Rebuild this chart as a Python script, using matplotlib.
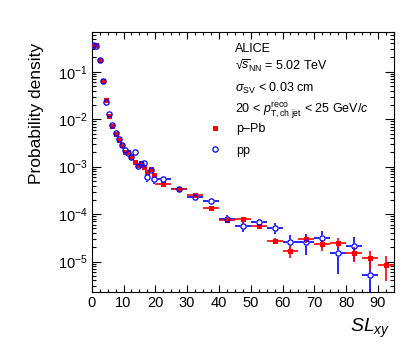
import numpy as np
import matplotlib
matplotlib.use("Agg")
import matplotlib.pyplot as plt
from matplotlib.ticker import MultipleLocator, LogLocator, NullFormatter
from matplotlib.lines import Line2D

plt.rcParams['font.family'] = ['Liberation Sans', 'DejaVu Sans']
plt.rcParams['mathtext.fontset'] = 'custom'
plt.rcParams['mathtext.rm'] = 'Liberation Sans'
plt.rcParams['mathtext.it'] = 'Liberation Sans:italic'
plt.rcParams['mathtext.bf'] = 'Liberation Sans:bold'

# bin centres and half widths (SL_xy)
sl_centres = [0.5, 1.5, 2.5, 3.5, 4.5, 5.5, 6.5, 7.5, 8.5, 9.5,
              10.5, 11.5, 12.5, 13.5, 14.5, 15.5, 16.5, 17.5, 18.5, 19.5,
              22.5, 27.5, 32.5, 37.5, 42.5, 47.5, 52.5, 57.5, 62.5, 67.5,
              72.5, 77.5, 82.5, 87.5, 92.5]
sl_halfw = [0.5] * 20 + [2.5] * 15

# p-Pb
ppb_y = [0.36, 0.36, 0.177, 0.065, 0.0253, 0.0118, 0.0073, 0.0049, 0.0037, 0.0028,
         0.00203, 0.0020, 0.00159, 0.00126, 0.00107, 0.00118, 0.00098, 0.00078, 0.00089, 0.00066,
         0.00044, 0.000335, 0.000259, 0.000132, 7.7e-5, 7.8e-5, 5.5e-5, 2.7e-5, 1.65e-5, 2.95e-5,
         2.3e-5, 2.5e-5, 1.5e-5, 1.2e-5, 8.4e-6]
ppb_err = [0.005, 0.005, 0.003, 0.0012, 0.0005, 0.0003, 0.0002, 0.00015, 0.00012, 0.0001,
           8e-5, 8e-5, 7e-5, 6e-5, 6e-5, 6e-5, 5e-5, 5e-5, 5e-5, 4e-5,
           2.0e-5, 1.6e-5, 1.4e-5, 1.0e-5, 0.6e-5, 0.6e-5, 0.5e-5, 0.4e-5, 0.45e-5, 0.45e-5,
           0.6e-5, 0.6e-5, 0.5e-5, 0.5e-5, 0.45e-5]

# pp (no entry in the last bin)
pp_y = [0.36, 0.35, 0.177, 0.065, 0.0228, 0.0128, 0.0076, 0.0052, 0.0038, 0.0029,
        0.00226, 0.0019, 0.0016, 0.0020, 0.00105, 0.00115, 0.00118, 0.00061, 0.00087, 0.00054,
        0.00054, 0.000335, 0.00023, 0.00019, 7.9e-5, 5.6e-5, 6.8e-5, 5.2e-5, 2.6e-5, 2.6e-5,
        3.2e-5, 1.55e-5, 2.15e-5, 5.1e-6]
pp_err = [0.008, 0.008, 0.005, 0.002, 0.001, 0.0006, 0.0004, 0.0003, 0.0002, 0.00018,
          0.00015, 0.00014, 0.00012, 0.00013, 0.0001, 0.0001, 0.0001, 0.00013, 0.00008, 0.0001,
          3.5e-5, 2.5e-5, 2.2e-5, 1.7e-5, 1.5e-5, 1.3e-5, 1.2e-5, 1.3e-5, 1.1e-5, 1.2e-5,
          1.25e-5, 1.0e-5, 1.1e-5, 6.5e-6]

fig = plt.figure(figsize=(4.15, 3.52), dpi=100)
ax = fig.add_axes([0.221, 0.171, 0.728, 0.737])

n_pp = len(pp_y)
pp_x = sl_centres[:n_pp]
# pp error bars, with a white disc hiding the part inside the open marker
ax.errorbar(pp_x, pp_y, xerr=sl_halfw[:n_pp], yerr=pp_err, fmt='none', ecolor='#0000ff',
            elinewidth=1.2, capsize=0, zorder=2)
ax.plot(pp_x, pp_y, ls='none', marker='o', ms=3.8, mfc='white', mec='white', mew=0.9, zorder=2.5)
# p-Pb
ax.errorbar(sl_centres, ppb_y, xerr=sl_halfw, yerr=ppb_err, fmt='s', color='#ff0000',
            ms=3.6, mew=0, elinewidth=1.2, capsize=0, zorder=3)
# pp open markers on top
ax.plot(pp_x, pp_y, ls='none', marker='o', ms=3.8, mfc='none', mec='#0000ff', mew=0.9, zorder=4)

ax.set_yscale('log')
ax.set_xlim(0, 95)
ax.set_ylim(2.31e-6, 0.676)

ax.xaxis.set_major_locator(MultipleLocator(10))
ax.xaxis.set_minor_locator(MultipleLocator(2.5))
ax.yaxis.set_major_locator(LogLocator(base=10, numticks=20))
ax.yaxis.set_minor_locator(LogLocator(base=10, subs=np.arange(2, 10), numticks=20))
ax.yaxis.set_minor_formatter(NullFormatter())

ax.tick_params(which='both', direction='in', top=True, right=True, labelsize=10.5, width=0.8)
ax.tick_params(axis='x', which='major', length=5, pad=3)
ax.tick_params(axis='x', which='minor', length=2.5)
ax.tick_params(axis='y', which='major', length=6.5, pad=3)
ax.tick_params(axis='y', which='minor', length=3.2)
for s in ax.spines.values():
    s.set_linewidth(0.8)

fig.text(0.087, 1 - 43 / 352, 'Probability density', rotation=90, ha='center', va='top', fontsize=12.5)
fig.text(390 / 415, 1 - 332 / 352, r'$SL_{xy}$', ha='right', va='baseline', fontsize=14)

tx = 0.474
ax.text(tx, 0.926, 'ALICE', transform=ax.transAxes, fontsize=9, va='baseline')
ax.text(tx, 0.856, '\u221A' + r'$\overline{s}_{\mathrm{NN}}$ = 5.02 TeV', transform=ax.transAxes,
        fontsize=9, va='baseline')
ax.text(tx, 0.772, r'$\sigma_{\mathrm{SV}}$ < 0.03 cm', transform=ax.transAxes, fontsize=9, va='baseline')
ax.text(tx, 0.692, r'20 < $p_{\mathrm{T,ch\ jet}}^{\mathrm{reco}}$ < 25 GeV/$c$', transform=ax.transAxes,
        fontsize=9, va='baseline')

handles = [Line2D([], [], ls='none', marker='s', color='#ff0000', ms=3.6, mew=0),
           Line2D([], [], ls='none', marker='o', color='#0000ff', mfc='none', ms=3.8, mew=0.9)]
ax.legend(handles, ['p\u2013Pb', 'pp'], loc='upper left', bbox_to_anchor=(0.386, 0.65),
          frameon=False, fontsize=9, handlelength=1.0, handletextpad=1.2, labelspacing=0.75,
          borderaxespad=0, borderpad=0)

fig.savefig('out.png', dpi=100)
